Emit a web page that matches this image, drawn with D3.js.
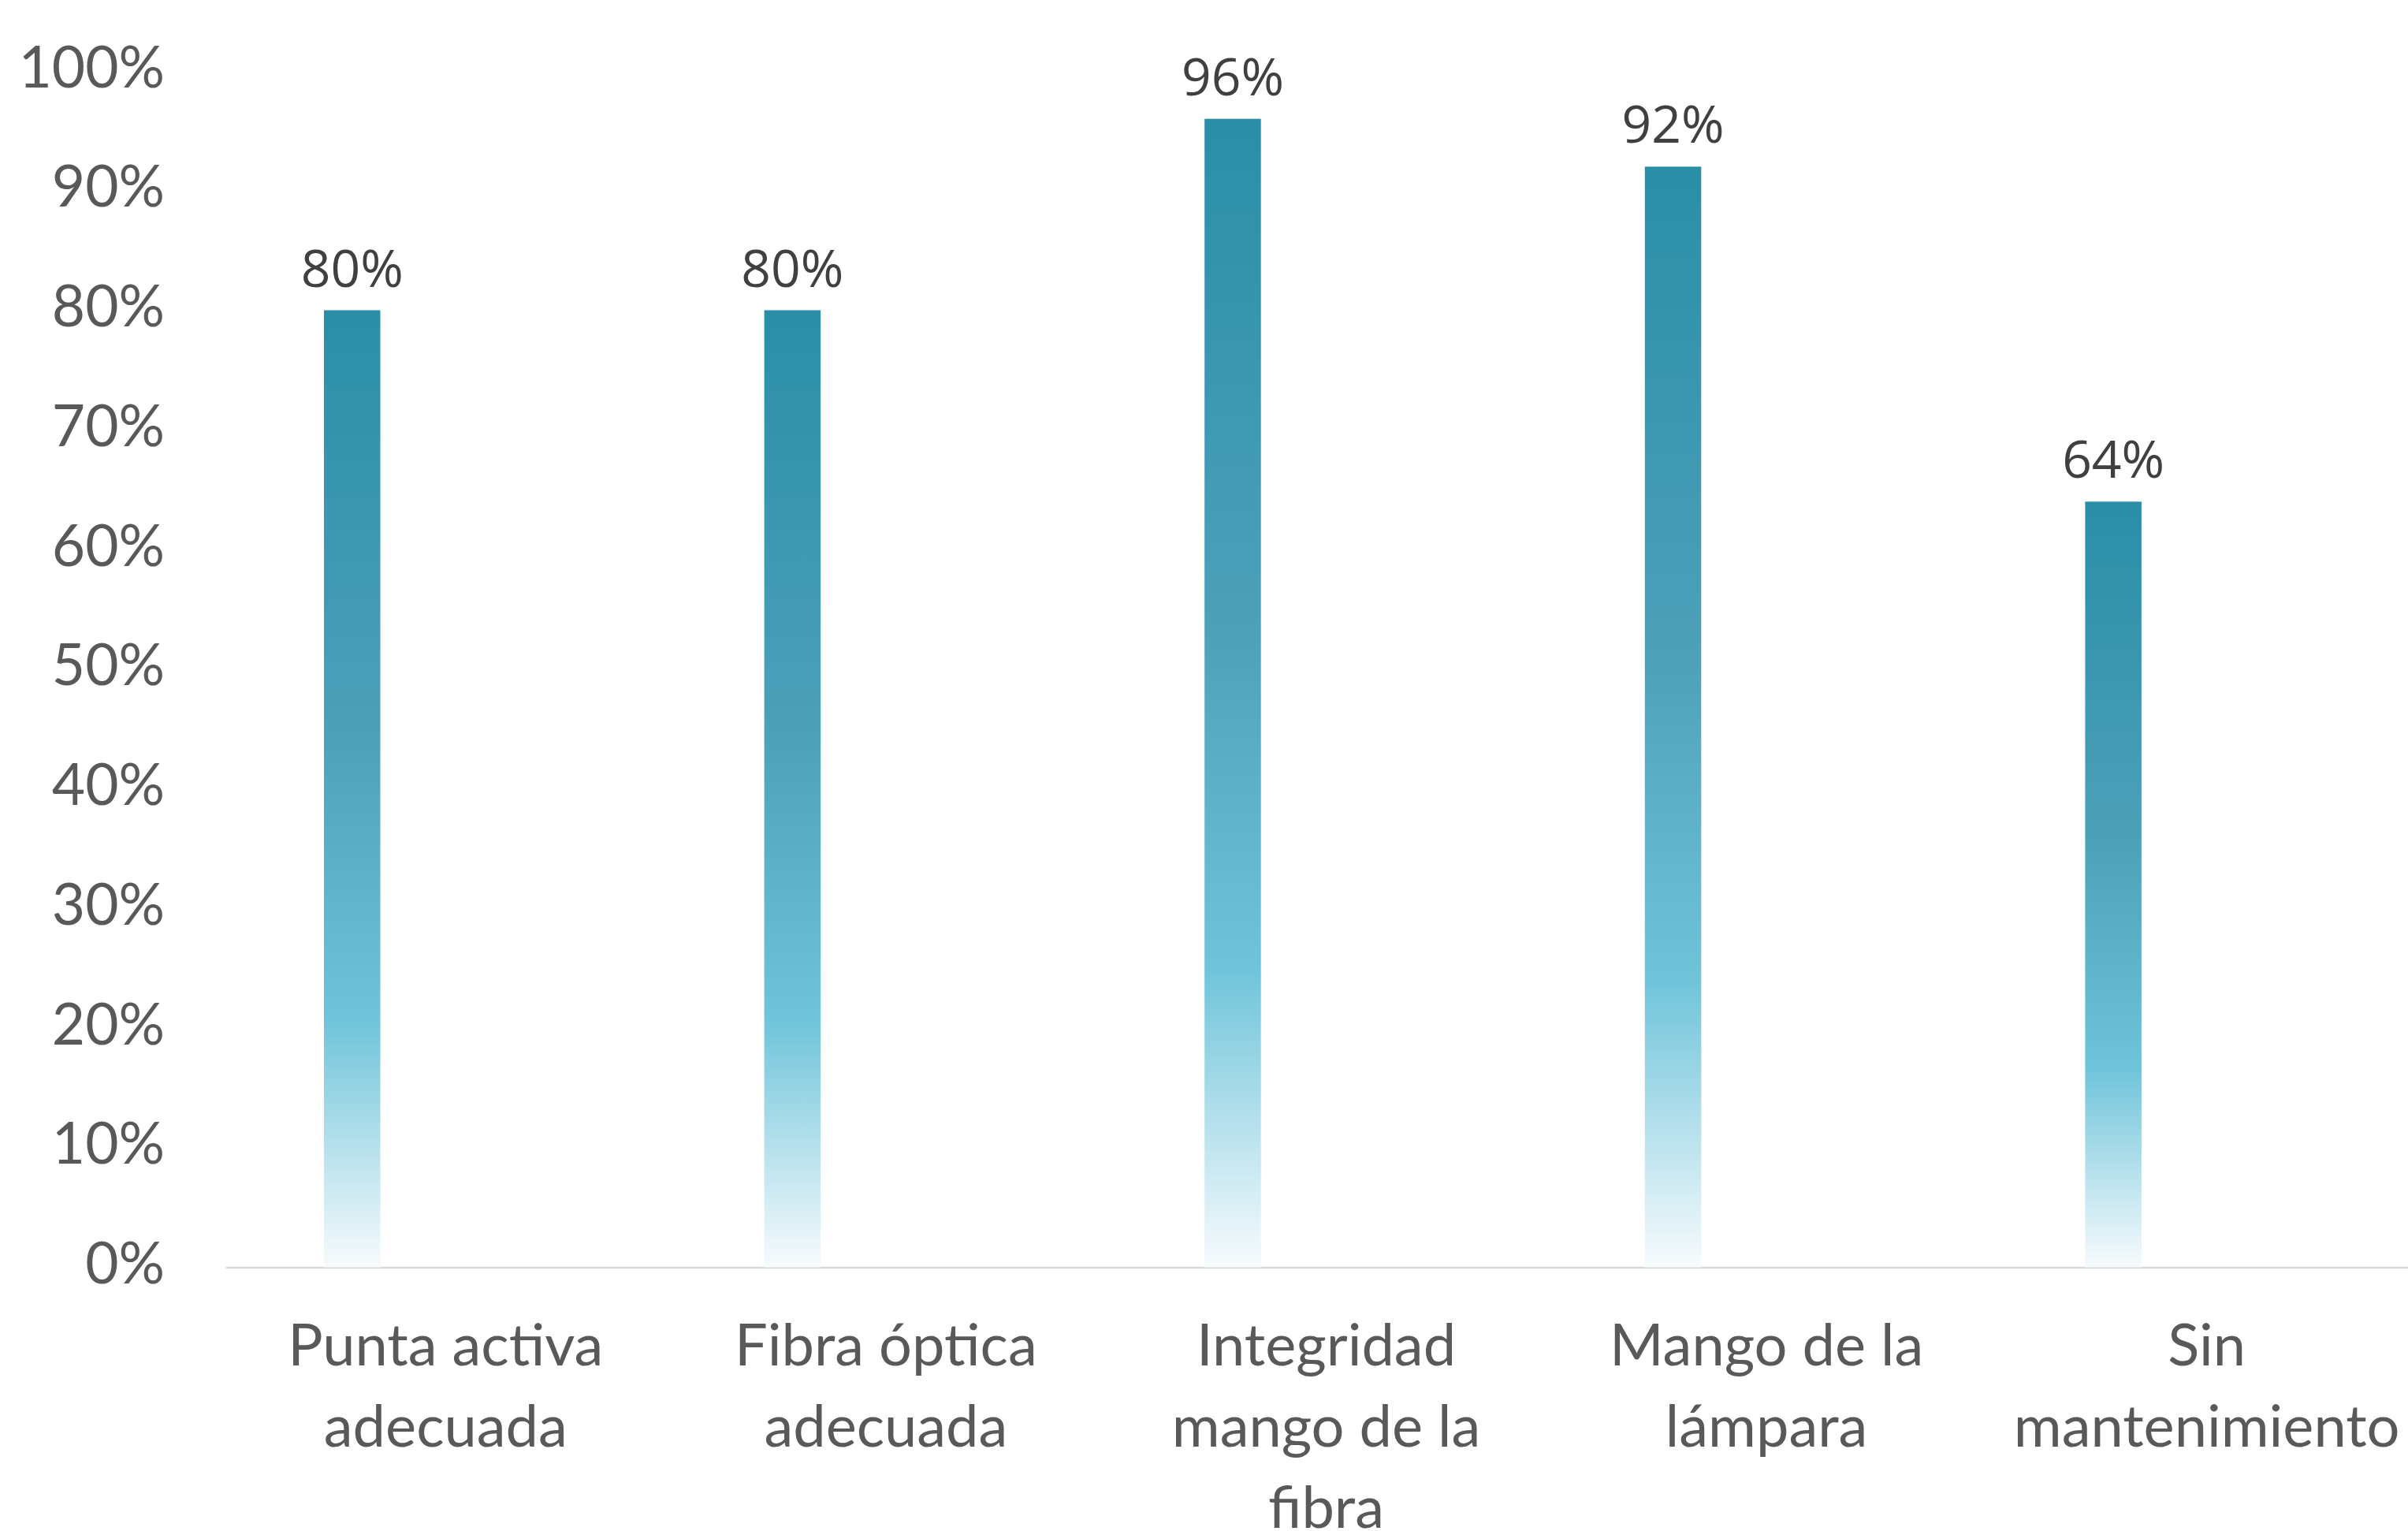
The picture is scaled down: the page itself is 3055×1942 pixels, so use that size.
<!DOCTYPE html>
<html>
<head>
<meta charset="utf-8">
<script src="https://cdn.jsdelivr.net/npm/d3@7"></script>
<style>
  body { margin: 0; background: #fff; }
</style>
</head>
<body>
<div id="chart-area"></div>
<script>
// data
var categories = ["Punta activa adecuada", "Fibra óptica adecuada", "Integridad mango de la fibra", "Mango de la lámpara", "Sin mantenimiento"];
var values = [0.80, 0.80, 0.96, 0.92, 0.64];
var yTicks = [0, 0.1, 0.2, 0.3, 0.4, 0.5, 0.6, 0.7, 0.8, 0.9, 1.0];

var W = 3055, H = 1942;
var plotLeft = 286, plotBottom = 1607.5, plotTop = 90;
var step = 558.6;

var svg = d3.select("#chart-area")
    .append("svg")
        .attr("width", W)
        .attr("height", H);

// gradient fill for the bars
var grad = svg.append("defs")
    .append("linearGradient")
        .attr("id", "barGrad")
        .attr("x1", 0).attr("y1", 0)
        .attr("x2", 0).attr("y2", 1);
grad.append("stop").attr("offset", "0%").attr("stop-color", "#2a8ea7");
grad.append("stop").attr("offset", "45%").attr("stop-color", "#4da1b9");
grad.append("stop").attr("offset", "74%").attr("stop-color", "#6fc4da");
grad.append("stop").attr("offset", "100%").attr("stop-color", "#f7fbfd");

var x_scale = d3.scaleBand()
    .domain(categories)
    .range([plotLeft, plotLeft + step * categories.length])
    .padding(0);

var y_scale = d3.scaleLinear()
    .domain([0, 1])
    .range([plotBottom, plotTop]);

// Y-Axis
var yAxisCall = d3.axisLeft(y_scale)
    .tickValues(yTicks)
    .tickSize(0)
    .tickPadding(77)
    .tickFormat(d3.format(".0%"));
var yAxis = svg.append("g")
    .attr("class", "y-axis")
    .attr("transform", "translate(" + plotLeft + ",0)")
    .call(yAxisCall);
yAxis.select(".domain").remove();
yAxis.selectAll("text")
    .attr("dy", 20)
    .attr("fill", "#595959")
    .attr("font-family", "Lato, 'Noto Sans', sans-serif")
    .attr("font-size", "73px");

// X-Axis
var xAxisCall = d3.axisBottom(x_scale)
    .tickSize(0)
    .tickSizeOuter(0)
    .tickPadding(0)
    .tickFormat("");
var xAxis = svg.append("g")
    .attr("class", "x-axis")
    .attr("transform", "translate(0," + plotBottom + ")")
    .call(xAxisCall);
xAxis.select(".domain")
    .attr("stroke", "#d9d9d9")
    .attr("stroke-width", 2.5);

// category labels, wrapped to the band width
var labels = svg.append("g")
    .selectAll("text")
    .data(categories)
    .enter()
    .append("text")
        .attr("x", function(d){ return x_scale(d) + x_scale.bandwidth() / 2; })
        .attr("y", 1732)
        .attr("text-anchor", "middle")
        .attr("fill", "#595959")
        .attr("font-family", "Lato, 'Noto Sans', sans-serif")
        .attr("font-size", "74px");

labels.each(function(d){
    var text = d3.select(this),
        words = d.split(" "),
        maxW = x_scale.bandwidth() - 30,
        cx = text.attr("x"),
        line = [],
        tspan = text.append("tspan").attr("x", cx).attr("dy", 0);
    words.forEach(function(w){
        line.push(w);
        tspan.text(line.join(" "));
        if (tspan.node().getComputedTextLength() > maxW && line.length > 1) {
            line.pop();
            tspan.text(line.join(" "));
            line = [w];
            tspan = text.append("tspan").attr("x", cx).attr("dy", 103).text(w);
        }
    });
});

// bars
var barOffset = 125, barWidth = 71.5;
svg.append("g")
    .selectAll("rect")
    .data(values)
    .enter()
    .append("rect")
        .attr("x", function(d, i){ return x_scale(categories[i]) + barOffset; })
        .attr("y", function(d){ return y_scale(d); })
        .attr("width", barWidth)
        .attr("height", function(d){ return plotBottom - y_scale(d); })
        .attr("fill", "url(#barGrad)");

// value labels
svg.append("g")
    .selectAll("text")
    .data(values)
    .enter()
    .append("text")
        .attr("x", function(d, i){ return x_scale(categories[i]) + barOffset + barWidth / 2; })
        .attr("y", function(d){ return y_scale(d) - 30; })
        .attr("text-anchor", "middle")
        .attr("fill", "#404040")
        .attr("font-family", "'Open Sans', 'Noto Sans', sans-serif")
        .attr("font-size", "66px")
        .text(function(d){ return d3.format(".0%")(d); });
</script>
</body>
</html>
